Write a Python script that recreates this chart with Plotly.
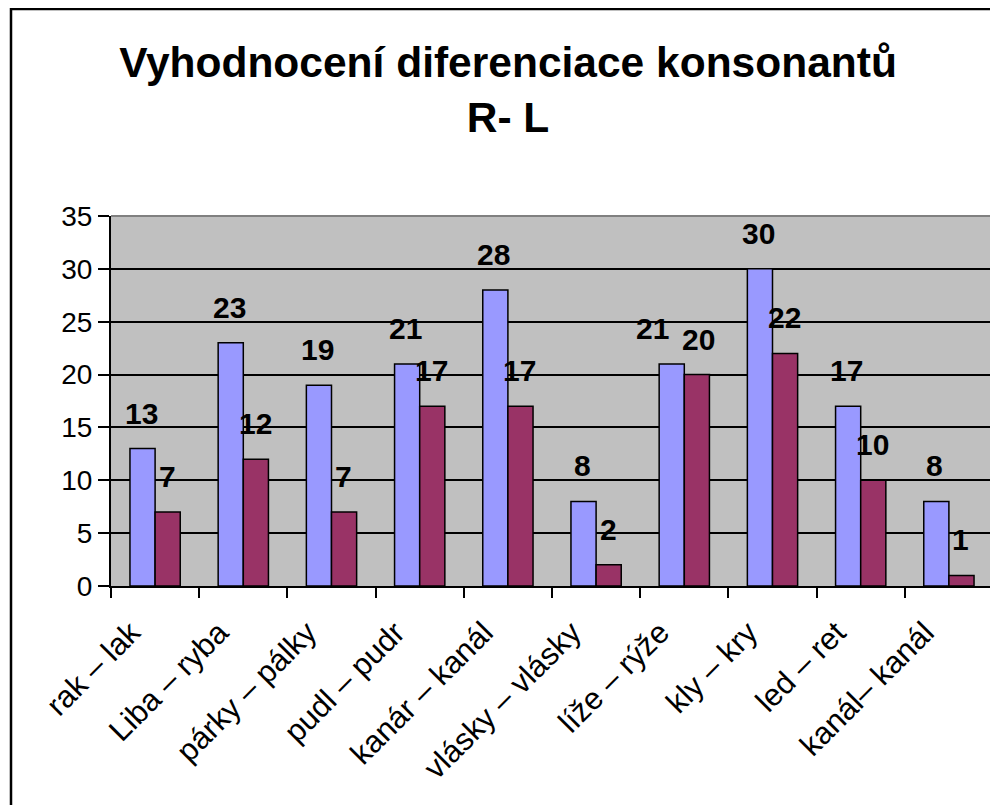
import plotly.graph_objects as go

categories = [
    "rak – lak", "Liba – ryba", "párky – pálky", "pudl – pudr",
    "kanár – kanál", "vlásky – vlásky", "líže – rýže", "kly – kry",
    "led – ret", "kanál– kanál",
]
series_r = [13, 23, 19, 21, 28, 8, 21, 30, 17, 8]
series_l = [7, 12, 7, 17, 17, 2, 20, 22, 10, 1]
y_ticks = [0, 5, 10, 15, 20, 25, 30, 35]

FONT = "Liberation Sans, Arial, sans-serif"

# page body adds an 8px margin, so the figure is a bit smaller
W, H = 990, 797
L, R, T, B = 103, 5, 208, 219

fig = go.Figure()

fig.add_bar(
    x=categories,
    y=series_r,
    name="R",
    marker=dict(color="#9999FF", line=dict(color="black", width=1.5)),
)
fig.add_bar(
    x=categories,
    y=series_l,
    name="L",
    marker=dict(color="#993366", line=dict(color="black", width=1.5)),
)

# value labels, Excel style, floating a bit above each bar
for cat, v in zip(categories, series_r):
    fig.add_annotation(
        x=cat, y=v, text=str(v), showarrow=False,
        xshift=-32 if cat == "líže – rýže" else -14,
        yshift=17, yanchor="bottom",
        font=dict(family=FONT, size=30, color="black", weight="bold"),
    )
for cat, v in zip(categories, series_l):
    fig.add_annotation(
        x=cat, y=v, text=str(v), showarrow=False,
        xshift=14 if cat == "líže – rýže" else 12,
        yshift=17, yanchor="bottom",
        font=dict(family=FONT, size=30, color="black", weight="bold"),
    )

pw = W - L - R
ph = H - T - B

# gray top/right edge of plot area
fig.add_shape(type="line", xref="paper", yref="paper", x0=0, x1=1, y0=1, y1=1,
              line=dict(color="#808080", width=2), layer="above")
fig.add_shape(type="line", xref="paper", yref="paper", x0=1, x1=1, y0=0, y1=1,
              line=dict(color="#808080", width=2), layer="above")

# chart area frame (only left and top edges fall inside the picture)
fig.add_shape(type="rect", xref="paper", yref="paper",
              x0=(3 - L) / pw, x1=1.5, y0=-2, y1=(H - B - 1) / ph,
              line=dict(color="black", width=2.5), fillcolor="rgba(0,0,0,0)")

fig.update_layout(
    width=W,
    height=H,
    margin=dict(l=L, r=R, t=T, b=B),
    paper_bgcolor="white",
    plot_bgcolor="#C0C0C0",
    showlegend=False,
    barmode="group",
    bargap=0.43,
    bargroupgap=0,
    title=dict(
        text="Vyhodnocení diferenciace konsonantů<br>R- L",
        x=500 / W, xanchor="center", xref="container",
        y=1 - 69 / H, yanchor="top", yref="container",
        font=dict(family=FONT, size=42.5, color="black", weight="bold"),
    ),
    font=dict(family=FONT, color="black"),
)

fig.update_xaxes(
    type="category",
    tickangle=-45,
    tickson="boundaries",
    ticks="outside",
    ticklen=10,
    tickwidth=2,
    tickcolor="black",
    ticklabelstandoff=14,
    ticklabelshift=-24,
    showline=True,
    linecolor="black",
    linewidth=2,
    showgrid=False,
    tickfont=dict(family=FONT, size=31, color="black"),
)
fig.update_yaxes(
    range=[0, 35],
    tickvals=y_ticks,
    ticks="outside",
    ticklen=11,
    tickwidth=2,
    tickcolor="black",
    ticksuffix="\u2002",
    showline=True,
    linecolor="black",
    linewidth=2,
    showgrid=True,
    gridcolor="black",
    gridwidth=2,
    zeroline=False,
    tickfont=dict(family=FONT, size=28, color="black"),
)

fig.write_html("out.html")
